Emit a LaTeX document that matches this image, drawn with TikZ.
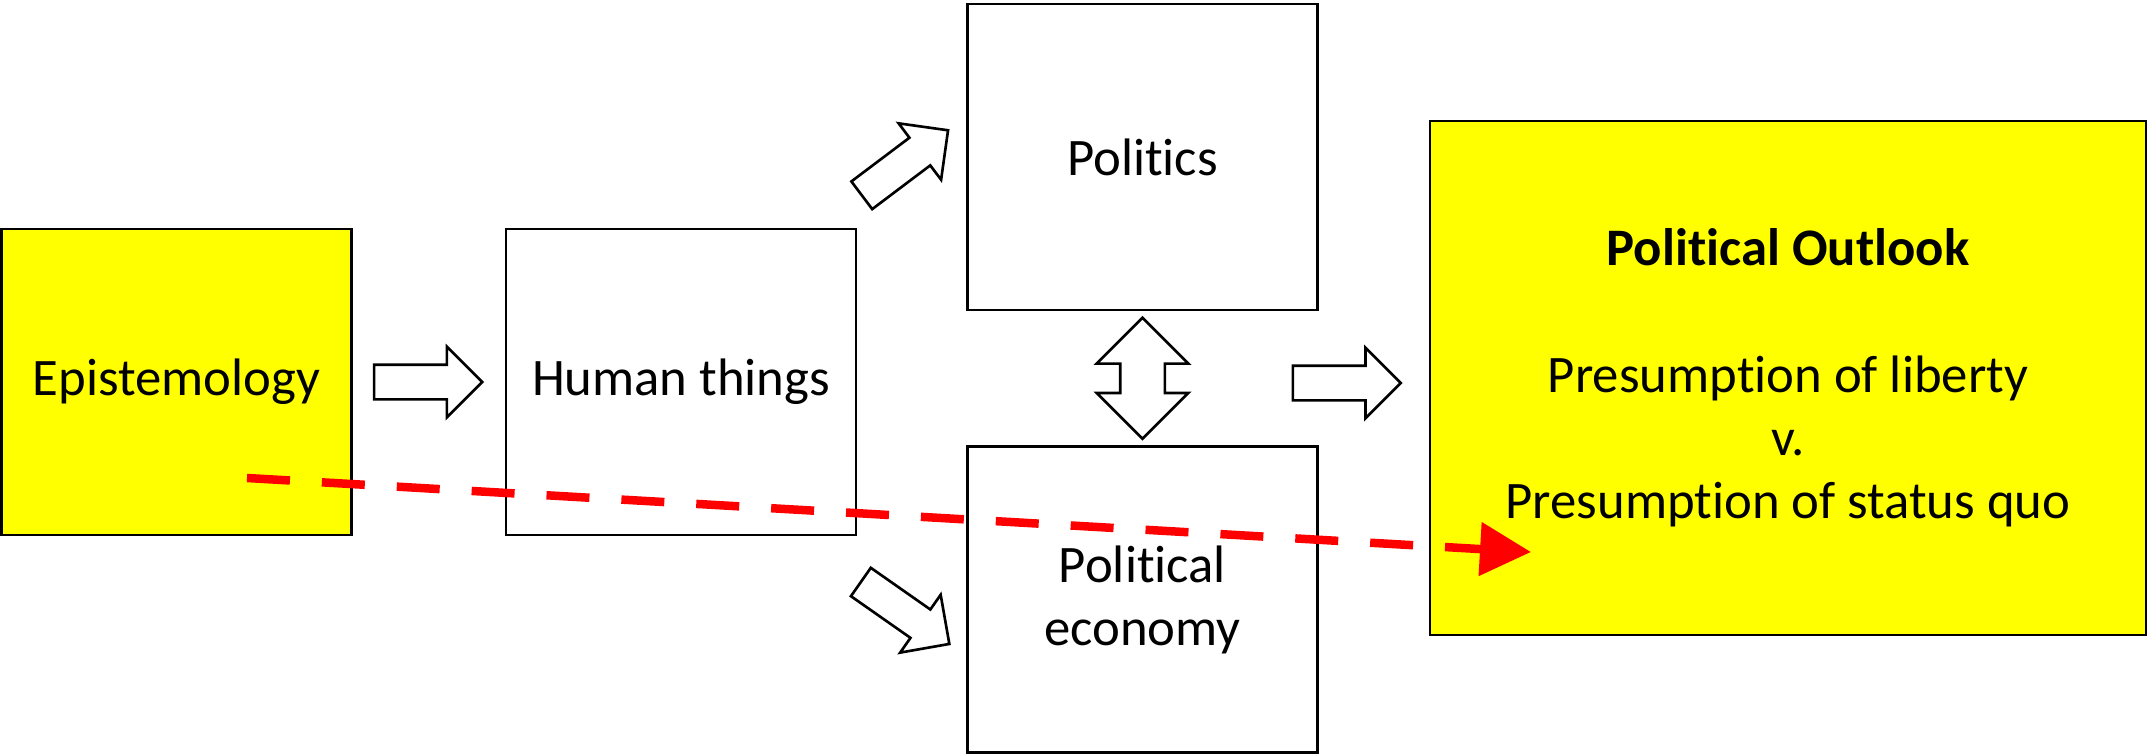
\documentclass[tikz,border=0pt]{standalone}
\usepackage{fontspec}
\setmainfont[Ligatures={NoCommon,NoContextual}]{Carlito}
\usetikzlibrary{shapes.arrows, arrows.meta, positioning, calc}
\definecolor{giallo}{RGB}{255,255,0}
\definecolor{rosso}{RGB}{255,0,0}
\tikzset{
  area/.style       = {rectangle, draw, line width=0.75pt, minimum width=35mm, minimum height=30.6mm, align=center, font=\fontsize{15pt}{18pt}\selectfont},
  focus/.style      = {area, fill=giallo},
  blockarrow/.style = {single arrow, draw, line width=0.75pt, fill=white, minimum height=10.8mm, inner sep=1.6mm, single arrow head extend=1.8mm},
  twoway/.style     = {double arrow, draw, line width=0.75pt, fill=white, minimum height=12.1mm, inner sep=2.1mm, double arrow head extend=2.35mm, shape border rotate=90},
  trail/.style      = {draw=rosso, line width=0.85mm, dash pattern=on 4.3mm off 3.2mm, -{Triangle[length=5.1mm, width=5.2mm]}}
}

\begin{document}
\begin{tikzpicture}[x=1mm, y=1mm]
  \useasboundingbox (0,0) rectangle (214.9,-75.4);

  % boxes
  \node[focus] (epi) at (17.65,-38.2) {Epistemology};
  \node[area, right=15.2mm of epi] (hum) {Human things};
  \node[area] (pol) at (114.25,-15.7) {Politics};
  \node[area, below=13.4mm of pol] (eco) {Political\\economy};
  \node[focus, minimum width=71.6mm, minimum height=51.4mm] (out) at (178.8,-37.8)
    {\textbf{Political Outlook}\\[18pt]Presumption of liberty\\v.\\Presumption of status quo};

  % block arrows
  \node[blockarrow, right=2mm of epi] (epihum) {};
  \node[blockarrow, rotate=37] (humpol) at (89.8,-16.8) {};
  \node[blockarrow, rotate=-35] (humeco) at (89.8,-60.8) {};
  \node[twoway] (poleco) at ($(pol.south)!0.5!(eco.north)$) {};
  \node[blockarrow, left=2.6mm of out, yshift=-0.5mm] (polout) {};

  % red trail
  \coordinate (rs) at (24.7,-47.8);
  \coordinate (re) at (153.1,-55.2);
  \draw[trail] (rs) -- (re);

\end{tikzpicture}
\end{document}
